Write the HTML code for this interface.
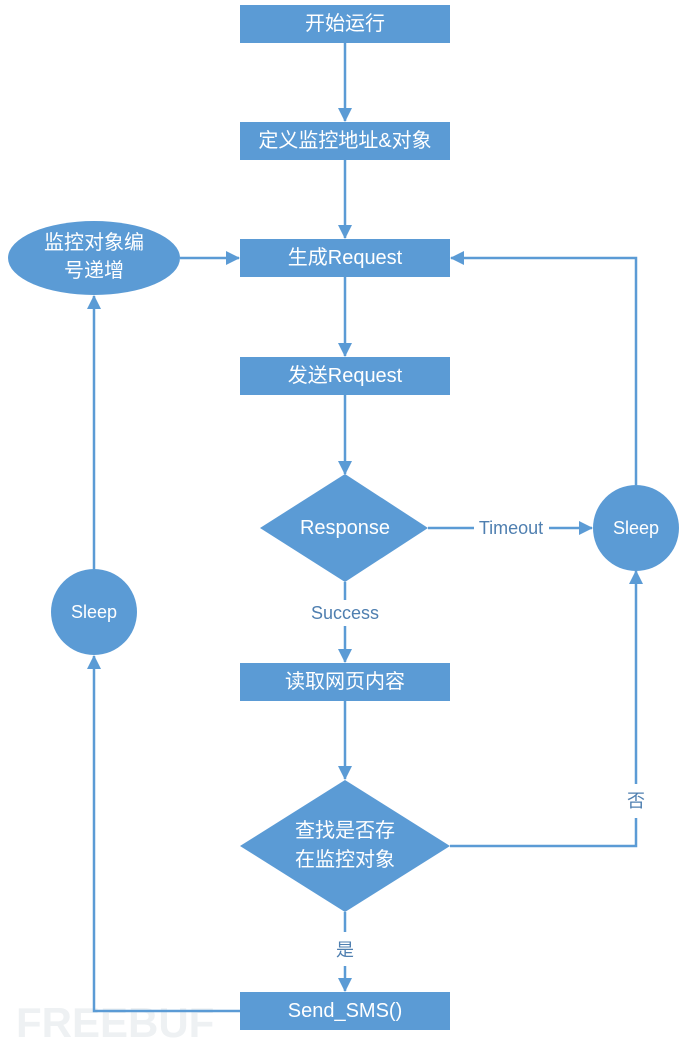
<!DOCTYPE html>
<html><head><meta charset="utf-8"><style>
html,body{margin:0;padding:0;background:#fff;}
svg{display:block;}
.w{fill:#fff;font-family:"Liberation Sans","Noto Sans CJK SC",sans-serif;font-size:20px;text-anchor:middle;dominant-baseline:central;}
.l{fill:#4f7fb0;font-family:"Liberation Sans","Noto Sans CJK SC",sans-serif;font-size:18px;text-anchor:middle;dominant-baseline:central;}
</style></head><body>
<svg width="690" height="1046" viewBox="0 0 690 1046" xmlns="http://www.w3.org/2000/svg">
<defs>
<marker id="a" markerWidth="14" markerHeight="14" refX="13" refY="7" orient="auto" markerUnits="userSpaceOnUse">
<path d="M0,0 L14,7 L0,14 Z" fill="#5b9bd5"/></marker>
</defs>
<text x="16" y="1037" style="fill:#eef1f3;font-family:'Liberation Sans',sans-serif;font-size:42px;font-weight:bold">FREEBUF</text>
<g stroke="#5b9bd5" stroke-width="2.5" fill="none">
<line x1="345" y1="43" x2="345" y2="121" marker-end="url(#a)"/>
<line x1="345" y1="160" x2="345" y2="238" marker-end="url(#a)"/>
<line x1="345" y1="277" x2="345" y2="356" marker-end="url(#a)"/>
<line x1="345" y1="395" x2="345" y2="474" marker-end="url(#a)"/>
<line x1="345" y1="582" x2="345" y2="600"/>
<line x1="345" y1="626" x2="345" y2="662" marker-end="url(#a)"/>
<line x1="345" y1="701" x2="345" y2="779" marker-end="url(#a)"/>
<line x1="345" y1="912" x2="345" y2="932"/>
<line x1="345" y1="966" x2="345" y2="991" marker-end="url(#a)"/>
<line x1="180" y1="258" x2="239" y2="258" marker-end="url(#a)"/>
<line x1="428" y1="528" x2="474" y2="528"/>
<line x1="549" y1="528" x2="592" y2="528" marker-end="url(#a)"/>
<polyline points="636,485 636,258 451,258" marker-end="url(#a)"/>
<polyline points="450,846 636,846 636,818"/>
<polyline points="636,784 636,571" marker-end="url(#a)"/>
<polyline points="240,1011 94,1011 94,656" marker-end="url(#a)"/>
<line x1="94" y1="569" x2="94" y2="296" marker-end="url(#a)"/>
</g>
<g fill="#5b9bd5">
<rect x="240" y="5" width="210" height="38"/>
<rect x="240" y="122" width="210" height="38"/>
<rect x="240" y="239" width="210" height="38"/>
<rect x="240" y="357" width="210" height="38"/>
<rect x="240" y="663" width="210" height="38"/>
<rect x="240" y="992" width="210" height="38"/>
<ellipse cx="94" cy="258" rx="86" ry="37"/>
<polygon points="260,528 345,474 428,528 345,582"/>
<polygon points="240,846 345,780 450,846 345,912"/>
<circle cx="636" cy="528" r="43"/>
<circle cx="94" cy="612" r="43"/>
</g>
<text class="w" x="345" y="24">开始运行</text>
<text class="w" x="345" y="141">定义监控地址&amp;对象</text>
<text class="w" x="345" y="258">生成Request</text>
<text class="w" x="345" y="376">发送Request</text>
<text class="w" x="345" y="528">Response</text>
<text class="w" x="345" y="682">读取网页内容</text>
<text class="w" x="345" y="831">查找是否存</text>
<text class="w" x="345" y="860">在监控对象</text>
<text class="w" x="345" y="1011">Send_SMS()</text>
<text class="w" x="94" y="243">监控对象编</text>
<text class="w" x="94" y="271">号递增</text>
<text class="w" x="636" y="528" style="font-size:18px">Sleep</text>
<text class="w" x="94" y="612" style="font-size:18px">Sleep</text>
<text class="l" x="511" y="528">Timeout</text>
<text class="l" x="345" y="613">Success</text>
<text class="l" x="345" y="950">是</text>
<text class="l" x="636" y="801">否</text>
</svg>
</body></html>
